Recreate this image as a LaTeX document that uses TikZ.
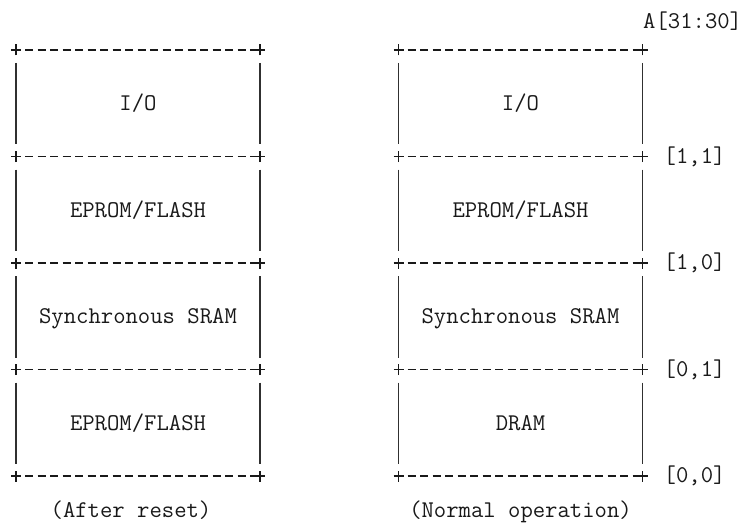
\documentclass[tikz,border=0pt]{standalone}
\usepackage{fontspec}
\usepackage{xcolor}
\usetikzlibrary{positioning}
\definecolor{asciiink}{RGB}{25,25,25}

% small "+" mark at a box corner
\newcommand{\cornermark}[1]{\draw[frame] ([xshift=-5pt]#1) -- ([xshift=5pt]#1) ([yshift=-5.5pt]#1) -- ([yshift=5.5pt]#1);}

\begin{document}
\begin{tikzpicture}[x=1pt, y=-1pt,
  region/.style={rectangle, minimum width=244pt, minimum height=106.5pt, inner sep=0pt, outer sep=0pt,
    text height=14.5pt, text depth=0pt, font=\ttfamily\fontsize{24}{28}\selectfont, text=asciiink},
  addr/.style={inner sep=0pt, font=\ttfamily\fontsize{24}{28}\selectfont, text=asciiink},
  frame/.style={line width=1.3pt, draw=asciiink},
  rowline/.style={frame, dash pattern=on 8.3pt off 4.2pt},
  bar/.style={line width=1.2pt, draw=asciiink!90}
]
\useasboundingbox (0,0) rectangle (748,527);

% after reset
\node[region] (iol) at (138,103.25) {I/O};
\node[region, below=0pt of iol] (eprl) {EPROM/FLASH};
\node[region, below=0pt of eprl] (sraml) {Synchronous SRAM};
\node[region, below=0pt of sraml] (bootl) {EPROM/FLASH};

% normal operation
\node[region] (ior) at (520.5,103.25) {I/O};
\node[region, below=0pt of ior] (eprr) {EPROM/FLASH};
\node[region, below=0pt of eprr] (sramr) {Synchronous SRAM};
\node[region, below=0pt of sramr] (dramr) {DRAM};

% address bits
\node[addr, anchor=west] (abus) at (643,21.5) {A[31:30]};
\node[addr, right=21pt of ior.south east] (a11) {[1,1]};
\node[addr, right=21pt of eprr.south east] (a10) {[1,0]};
\node[addr, right=21pt of sramr.south east] (a01) {[0,1]};
\node[addr, right=21pt of dramr.south east] (a00) {[0,0]};

\node[addr, below=25pt of bootl, xshift=-7pt] (capl) {(After reset)};
\node[addr, below=25pt of dramr] (capr) {(Normal operation)};

% borders
\foreach \r in {iol,eprl,sraml,bootl,ior,eprr,sramr,dramr} {
  \draw[rowline] ([xshift=9pt]\r.north west) -- ([xshift=-5pt]\r.north east);
  \draw[bar] ([yshift=-13pt]\r.north west) -- ([yshift=12pt]\r.south west);
  \draw[bar] ([yshift=-13pt]\r.north east) -- ([yshift=12pt]\r.south east);
  \cornermark{\r.north west}
  \cornermark{\r.north east}
}
\foreach \r in {bootl,dramr} {
  \draw[rowline] ([xshift=9pt]\r.south west) -- ([xshift=-5pt]\r.south east);
  \cornermark{\r.south west}
  \cornermark{\r.south east}
}
\end{tikzpicture}
\end{document}
